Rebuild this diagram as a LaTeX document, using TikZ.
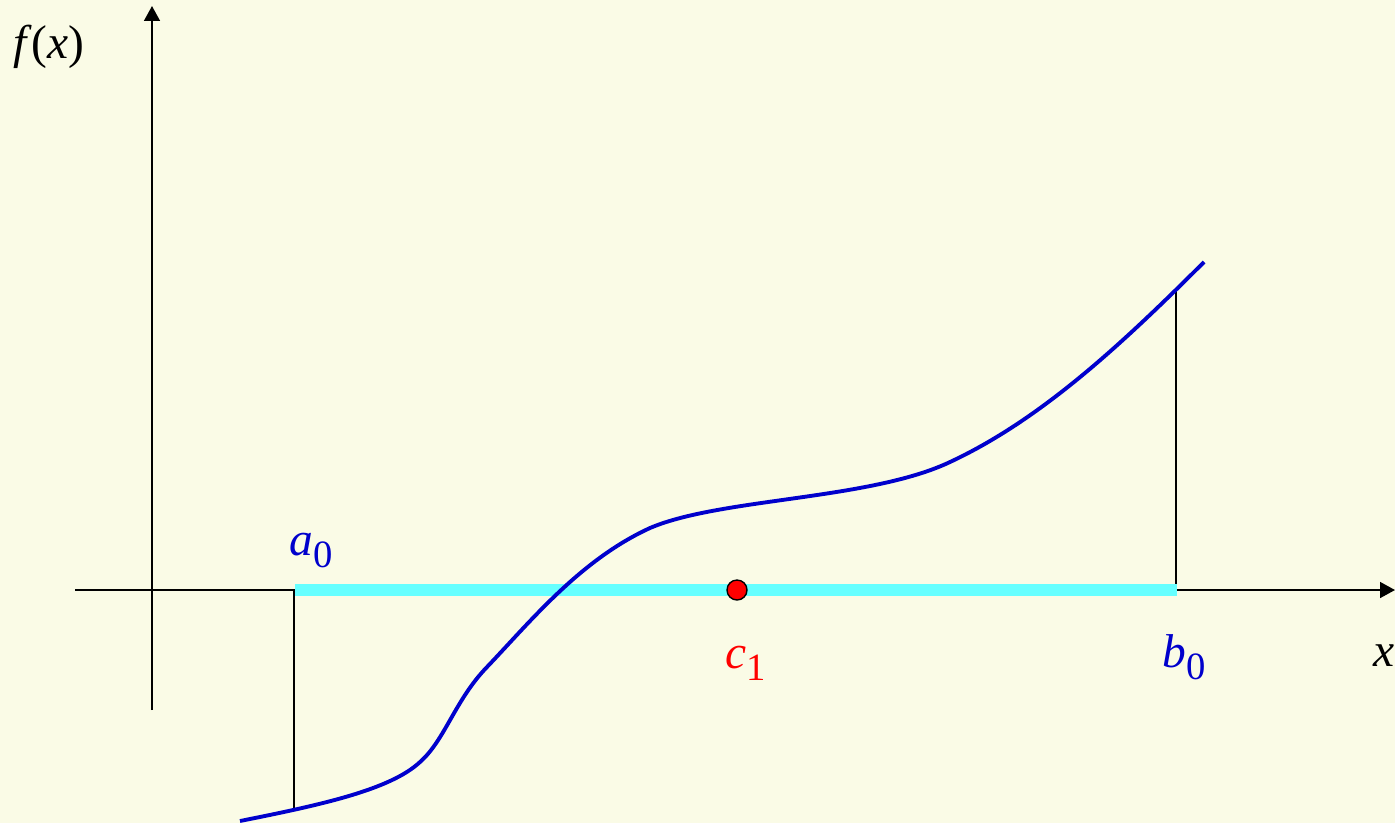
\documentclass[tikz,border=0pt]{standalone}
\usepackage{fontspec}
\setmainfont{Liberation Serif}
\usetikzlibrary{arrows.meta}
\definecolor{bg}{RGB}{250,251,230}
\definecolor{curveblue}{RGB}{0,0,204}
\definecolor{barcyan}{RGB}{102,255,255}
\newcommand\sublab[3]{\textcolor{#1}{\textit{#2}\raisebox{-0.27em}{\fontsize{22}{22}\selectfont #3}}}
\tikzset{
  axis/.style={line width=1.1pt,-{Triangle[length=8.5pt,width=9pt]}},
  guide/.style={line width=0.8pt,black},
  fcurve/.style={line width=2.2pt,curveblue},
  bar/.style={line width=6.3pt,barcyan},
  lbl/.style={anchor=base west,inner sep=0pt,font=\fontsize{27}{27}\selectfont},
  dot/.style={circle,fill=red,draw=black,line width=0.8pt,minimum size=0.4cm,inner sep=0pt}
}
\begin{document}
\begin{tikzpicture}[x=0.02cm,y=-0.02cm]
\fill[bg] (0,0) rectangle (1395,823);
\useasboundingbox (0,0) rectangle (1395,823);
% axes
\coordinate (xs) at (75,590);
\coordinate (xe) at (1395,590);
\coordinate (ys) at (152,710);
\coordinate (ye) at (152,6);
\draw[axis] (xs) -- (xe);
\draw[axis] (ys) -- (ye);
% guide verticals
\coordinate (a0) at (294,590);
\coordinate (fa) at (294,808);
\coordinate (b0) at (1176,590);
\coordinate (fb) at (1176,291);
\draw[guide] (a0) -- (fa);
\draw[guide] (b0) -- (fb);
% interval bar
\coordinate (bs) at (295,590);
\coordinate (be) at (1177,590);
\draw[bar] (bs) -- (be);
% curve
\draw[fcurve] (240,821) .. controls (320,805) and (390,790) .. (420,762)
  .. controls (445,740) and (455,700) .. (487,667)
  .. controls (530,622) and (580,560) .. (650,528)
  .. controls (720,498) and (870,500) .. (950,462)
  .. controls (1040,420) and (1120,346) .. (1204,262);
% midpoint
\node[dot] (c1) at (737,590) {};
% labels
\node[lbl] (fx) at (13,58) {\textit{f}(\textit{x})};
\node[lbl] (la) at (289,555) {\sublab{curveblue}{a}{0}};
\node[lbl] (lc) at (725,668) {\sublab{red}{c}{1}};
\node[lbl] (lb) at (1162,667) {\sublab{curveblue}{b}{0}};
\node[lbl] (lx) at (1373,666) {\textit{x}};
\end{tikzpicture}
\end{document}
